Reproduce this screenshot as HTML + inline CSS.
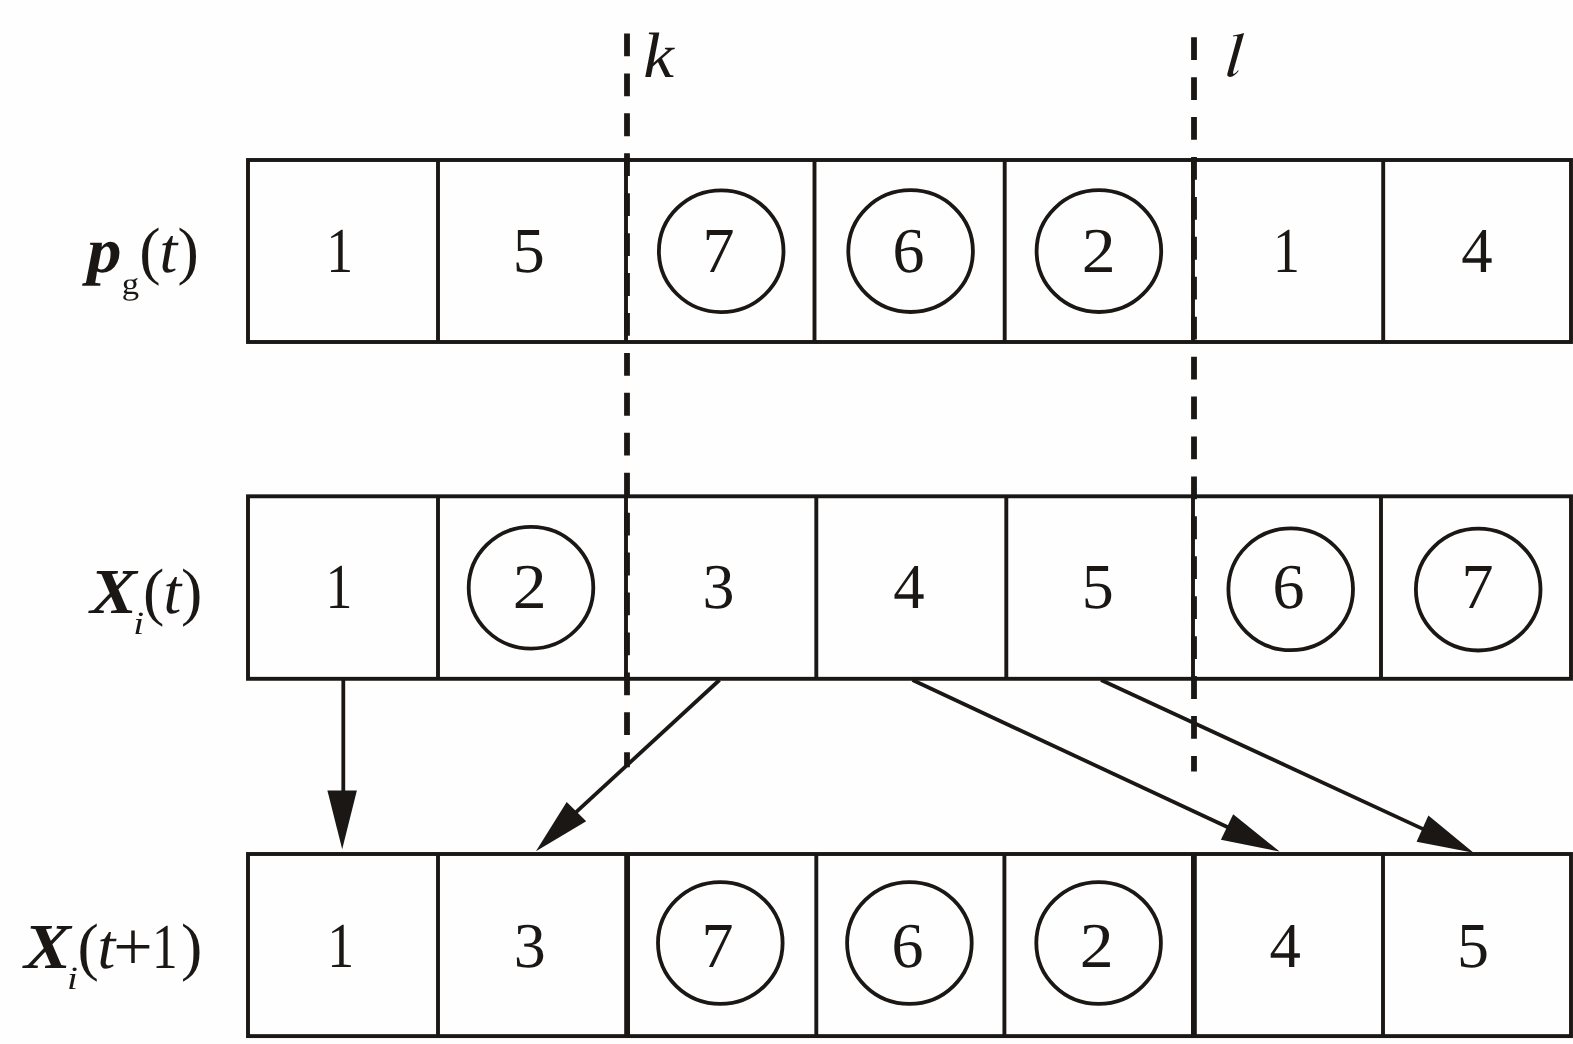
<!DOCTYPE html>
<html><head><meta charset="utf-8"><title>Diagram</title>
<style>html,body{margin:0;padding:0;background:#fefefe;overflow:hidden;}svg{display:block;position:absolute;left:0;top:0;}text{font-family:"Liberation Serif",serif;fill:#1a1714;text-rendering:geometricPrecision;}.i{font-style:italic;}.bi{font-style:italic;font-weight:bold;}</style></head><body>
<svg width="1573" height="1044" viewBox="0 0 1573 1044">
<defs><filter id="nf" x="-30%" y="-30%" width="160%" height="160%"><feOffset dx="0" dy="0"/></filter></defs>
<rect width="1573" height="1044" fill="#fefefe"/>
<!-- boxes -->
<g stroke="#1a1714" fill="none" stroke-linecap="butt">
<rect x="248.0" y="160.0" width="1323.0" height="182.0" stroke-width="3.9"/>
<line x1="438.0" y1="160.0" x2="438.0" y2="342.0" stroke-width="3.9"/>
<line x1="626.0" y1="160.0" x2="626.0" y2="342.0" stroke-width="3.9"/>
<line x1="814.5" y1="160.0" x2="814.5" y2="342.0" stroke-width="3.9"/>
<line x1="1004.7" y1="160.0" x2="1004.7" y2="342.0" stroke-width="3.9"/>
<line x1="1193.0" y1="160.0" x2="1193.0" y2="342.0" stroke-width="3.9"/>
<line x1="1383.2" y1="160.0" x2="1383.2" y2="342.0" stroke-width="3.9"/>
<rect x="248.0" y="496.3" width="1323.0" height="182.5" stroke-width="3.9"/>
<line x1="438.0" y1="496.3" x2="438.0" y2="678.8" stroke-width="3.9"/>
<line x1="626.0" y1="496.3" x2="626.0" y2="678.8" stroke-width="3.9"/>
<line x1="816.3" y1="496.3" x2="816.3" y2="678.8" stroke-width="3.9"/>
<line x1="1006.3" y1="496.3" x2="1006.3" y2="678.8" stroke-width="3.9"/>
<line x1="1193.0" y1="496.3" x2="1193.0" y2="678.8" stroke-width="3.9"/>
<line x1="1381.0" y1="496.3" x2="1381.0" y2="678.8" stroke-width="3.9"/>
<rect x="248.0" y="854.0" width="1323.0" height="182.1" stroke-width="3.9"/>
<line x1="438.0" y1="854.0" x2="438.0" y2="1036.1" stroke-width="3.9"/>
<line x1="627.1" y1="854.0" x2="627.1" y2="1036.1" stroke-width="5.8"/>
<line x1="816.3" y1="854.0" x2="816.3" y2="1036.1" stroke-width="3.9"/>
<line x1="1004.4" y1="854.0" x2="1004.4" y2="1036.1" stroke-width="3.9"/>
<line x1="1193.9" y1="854.0" x2="1193.9" y2="1036.1" stroke-width="5.8"/>
<line x1="1383.0" y1="854.0" x2="1383.0" y2="1036.1" stroke-width="3.9"/>
<line x1="627" y1="33.5" x2="627" y2="767.2" stroke-width="5.8" stroke-dasharray="22.80 17.13"/>
<line x1="1194" y1="37.2" x2="1194" y2="771.6" stroke-width="5.8" stroke-dasharray="22.80 17.13"/>
<line x1="343.3" y1="680.0" x2="343.3" y2="792.6" stroke-width="3.8"/>
<line x1="719.5" y1="680.0" x2="575.0" y2="813.1" stroke-width="3.8"/>
<line x1="912.5" y1="680.0" x2="1228.9" y2="827.8" stroke-width="3.8"/>
<line x1="1101.0" y1="680.0" x2="1424.3" y2="829.6" stroke-width="3.8"/>
</g>
<g fill="#1a1714" stroke="none">
<polygon points="342.2,849.3 327.4,790.6 356.9,790.6"/>
<polygon points="535.9,851.2 566.7,802.1 586.2,821.3"/>
<polygon points="1279.6,851.6 1233.2,814.2 1220.9,839.7"/>
<polygon points="1473.6,852.8 1428.4,815.6 1416.6,841.8"/>
</g>
<!-- circles -->
<g stroke="#1a1714" fill="none" stroke-width="3.8">
<ellipse cx="721.2" cy="251.2" rx="62.3" ry="60.9"/>
<ellipse cx="910.6" cy="251.1" rx="62.3" ry="60.9"/>
<ellipse cx="1098.9" cy="251.1" rx="62.3" ry="60.9"/>
<ellipse cx="531.0" cy="587.7" rx="62.3" ry="60.9"/>
<ellipse cx="1290.7" cy="589.3" rx="62.3" ry="60.9"/>
<ellipse cx="1478.2" cy="589.6" rx="62.3" ry="60.9"/>
<ellipse cx="720.3" cy="943.0" rx="62.3" ry="60.9"/>
<ellipse cx="909.4" cy="943.0" rx="62.3" ry="60.9"/>
<ellipse cx="1098.6" cy="943.0" rx="62.3" ry="60.9"/>
</g>
<!-- digits -->
<text transform="translate(326.22 271.80) scale(0.840 1)" font-size="64">1</text>
<text x="512.70" y="271.80" font-size="64">5</text>
<text x="702.50" y="271.80" font-size="64">7</text>
<text x="892.50" y="271.80" font-size="64">6</text>
<text transform="translate(1081.87 271.80) scale(1.060 1)" font-size="64">2</text>
<text transform="translate(1273.02 271.80) scale(0.840 1)" font-size="64">1</text>
<text transform="translate(1461.22 271.80) scale(0.980 1)" font-size="64">4</text>
<text transform="translate(325.52 608.20) scale(0.840 1)" font-size="64">1</text>
<text transform="translate(512.67 608.20) scale(1.060 1)" font-size="64">2</text>
<text x="702.50" y="608.20" font-size="64">3</text>
<text transform="translate(893.32 608.20) scale(0.980 1)" font-size="64">4</text>
<text x="1081.80" y="608.20" font-size="64">5</text>
<text x="1272.50" y="608.20" font-size="64">6</text>
<text x="1461.60" y="608.20" font-size="64">7</text>
<text transform="translate(327.22 966.90) scale(0.840 1)" font-size="64">1</text>
<text x="513.80" y="966.90" font-size="64">3</text>
<text x="701.60" y="966.90" font-size="64">7</text>
<text x="891.50" y="966.90" font-size="64">6</text>
<text transform="translate(1079.77 966.90) scale(1.060 1)" font-size="64">2</text>
<text transform="translate(1269.42 966.90) scale(0.980 1)" font-size="64">4</text>
<text x="1456.90" y="966.90" font-size="64">5</text>
<!-- k / l -->
<text transform="translate(643.30 76.60) scale(1.080 1)" font-size="64" class="i">k</text>
<path fill="#1a1714" d="M1233.0 35.5 L1239.6 34.3 L1244.1 33.0 L1233.6 70.0 Q1232.3 74.5 1234.3 73.8 Q1236.4 72.7 1238.0 70.2 L1238.7 70.7 Q1235.4 75.8 1230.4 76.9 Q1226.5 77.1 1227.4 73.6 L1237.3 37.6 Q1237.8 36.0 1236.2 36.0 L1233.1 36.5 Z"/>
<!-- labels -->
<text transform="translate(87.00 271.80) scale(1.080 1)" font-size="64" class="bi">p</text>
<g filter="url(#nf)"><text transform="translate(121.70 293.70) scale(1.120 1)" font-size="31">g</text></g>
<text x="139.35" y="271.80" font-size="64">(</text>
<text x="159.50" y="271.80" font-size="64" class="i">t</text>
<text x="177.60" y="271.80" font-size="64">)</text>
<text transform="translate(90.00 612.60) scale(1.100 1)" font-size="64" class="bi">X</text>
<g filter="url(#nf)"><text transform="translate(133.20 633.50) scale(1.200 1)" font-size="32.5" class="i">i</text></g>
<text x="142.90" y="612.60" font-size="64">(</text>
<text x="163.60" y="612.60" font-size="64" class="i">t</text>
<text x="181.00" y="612.60" font-size="64">)</text>
<text transform="translate(24.10 967.70) scale(1.100 1)" font-size="64" class="bi">X</text>
<g filter="url(#nf)"><text transform="translate(66.90 988.80) scale(1.200 1)" font-size="32.5" class="i">i</text></g>
<text x="77.45" y="967.70" font-size="64">(</text>
<text x="97.50" y="967.70" font-size="64" class="i">t</text>
<text x="113.20" y="970.20" font-size="70">+</text>
<text transform="translate(151.95 967.90) scale(0.800 1)" font-size="64">1</text>
<text x="180.95" y="967.70" font-size="64">)</text>
</svg></body></html>
